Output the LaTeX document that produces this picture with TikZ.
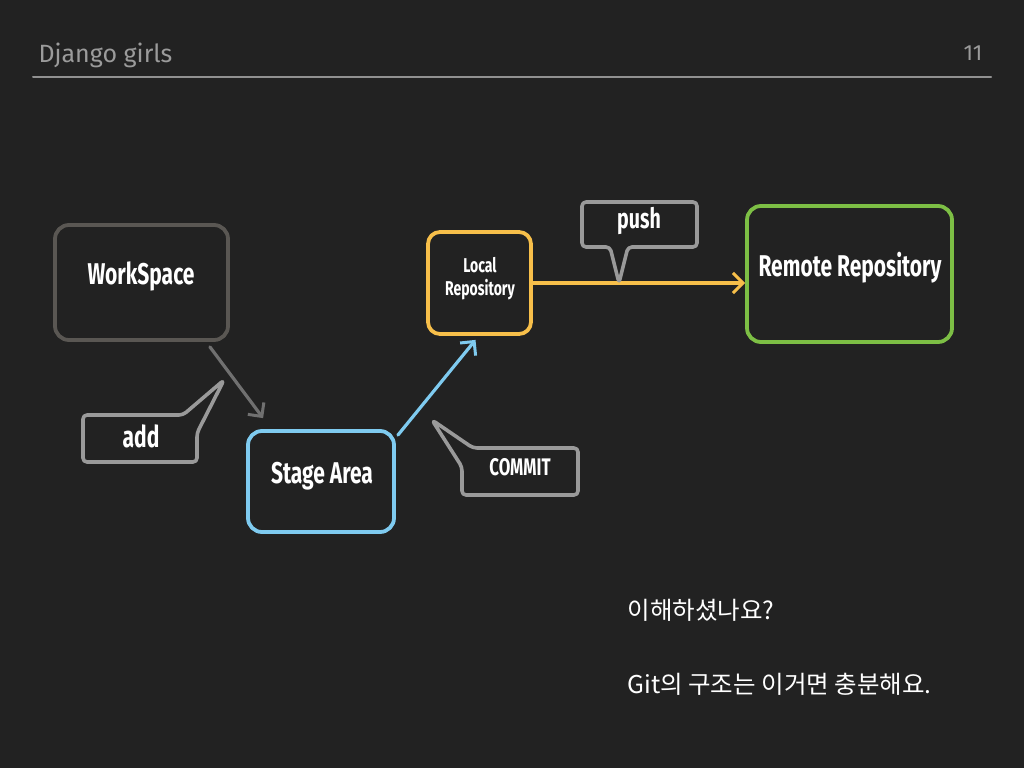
\documentclass[tikz,border=0pt]{standalone}
\usepackage{fontspec}
\setmainfont{Fira Sans}
\newfontfamily\condfont[FakeStretch=0.7]{Fira Sans}
\newfontfamily\krfont{Noto Sans CJK KR}
\usetikzlibrary{arrows.meta, positioning, calc}
\definecolor{bgdark}{HTML}{222222}
\definecolor{headgray}{HTML}{9B9B9B}
\definecolor{wsgray}{HTML}{5A5753}
\definecolor{addgray}{HTML}{707070}
\definecolor{tipgray}{HTML}{9A9A9A}
\definecolor{stageblue}{HTML}{7FCBF0}
\definecolor{localyellow}{HTML}{F7BF4A}
\definecolor{remotegreen}{HTML}{7DBF45}

\begin{document}
\begin{tikzpicture}[x=1pt, y=-1pt, line cap=round, line join=round,
    box/.style={draw, line width=3.8pt, rounded corners=14pt, inner sep=0pt},
    lbl/.style={text=white, font=\condfont\bfseries\fontsize{30}{32}\selectfont},
    small/.style={text=white, align=center, font=\condfont\bfseries\fontsize{20}{23}\selectfont},
    tip/.style={draw=tipgray, line width=3.6pt, rounded corners=4pt},
    flow/.style={line width=3.2pt, -{Straight Barb[length=10pt, width=20pt, line width=3pt]}},
    kr/.style={text=white, anchor=west, font=\krfont\fontsize{24.5}{27}\selectfont}]
  \fill[bgdark] (0,0) rectangle (1024,768);
  \useasboundingbox (0,0) rectangle (1024,768);
  % header
  \node[anchor=base west, text=headgray, font=\fontsize{25}{28}\selectfont] (title) at (35,63) {Django girls};
  \node[anchor=base east, text=headgray, font=\fontsize{22}{24}\selectfont] (page) at (986,60) {11};
  \draw[line width=2pt, draw=headgray!110] (33,77) -- (991,77);
  % the four places
  \node[box, draw=wsgray, minimum width=173pt, minimum height=115pt] (ws) at (141.5,282.5) {};
  \node[lbl] (wstxt) at (141,276) {WorkSpace};
  \node[box, draw=stageblue, minimum width=146pt, minimum height=101pt] (stage) at (321,481.5) {};
  \node[lbl] (stagetxt) at (322,476) {Stage Area};
  \node[box, draw=localyellow, minimum width=103pt, minimum height=102pt, rounded corners=12pt] (local) at (479.5,283) {};
  \node[small] (localtxt) at (480,279) {Local\\Repository};
  \node[box, draw=remotegreen, minimum width=205pt, minimum height=136pt] (remote) at (849.5,274) {};
  \node[lbl] (remotetxt) at (850,268) {Remote Repository};
  % arrows between them
  \draw[flow, addgray] ($(ws.south east)+(-20,5)$) -- ($(stage.north west)+(17,-11)$);
  \draw[flow, stageblue] ($(stage.north east)+(2,6)$) -- ($(local.south)+(-4,4)$);
  \draw[flow, localyellow] (local.east) -- (local.east -| remote.west);
  % callouts
  \draw[tip] (83,415) -- (183,415) -- (224,380) -- (197,433) -- (197,462) -- (83,462) -- cycle;
  \node[lbl] (addtxt) at (141,436) {add};
  \draw[tip] (473,448) -- (578,448) -- (578,495) -- (462,495) -- (462,467) -- (432,420) -- cycle;
  \node[lbl, font=\condfont\bfseries\fontsize{24}{26}\selectfont] (committxt) at (520,467) {COMMIT};
  \draw[tip] (582,202) -- (697,202) -- (697,247) -- (628,247) -- (619,283) -- (610,247) -- (582,247) -- cycle;
  \node[lbl, font=\condfont\bfseries\fontsize{28}{30}\selectfont] (pushtxt) at (639,221) {push};
  % closing words
  \node[kr] (ask) at (624,610) {이해하셨나요?};
  \node[kr] (enough) at (624,684) {Git의 구조는 이거면 충분해요.};
\end{tikzpicture}
\end{document}
